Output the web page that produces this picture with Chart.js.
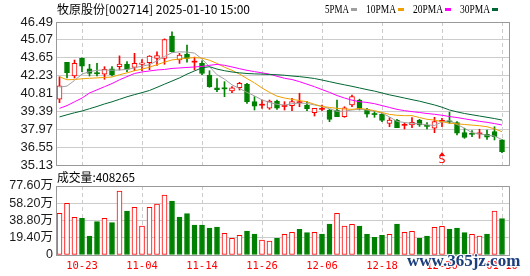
<!DOCTYPE html>
<html lang="zh">
<head>
<meta charset="utf-8">
<title>牧原股份 002714 日K线</title>
<script src="https://cdn.jsdelivr.net/npm/chart.js@4.4.1/dist/chart.umd.min.js"></script>
<style>
  html, body { margin: 0; padding: 0; background: #fff; }
  #wrap { position: relative; width: 530px; height: 276px; overflow: hidden; }
  #wrap canvas { position: absolute; left: 0; }
  #priceCanvas { top: 0; }
  #volCanvas { top: 170px; }
</style>
</head>
<body>
<div id="wrap">
  <canvas id="priceCanvas" width="530" height="185"></canvas>
  <canvas id="volCanvas" width="530" height="106"></canvas>
</div>
<script>
"use strict";

/* ****************************************************************************
    DATA
**************************************************************************** */
const stockTitle = "牧原股份[002714] 2025-01-10 15:00";
const volumeTitle = "成交量";
const lastVolume = 408265;

const dates = [
  "10-18", "10-21", "10-22", "10-23", "10-24", "10-25", "10-28", "10-29", "10-30", "10-31",
  "11-01", "11-04", "11-05", "11-06", "11-07", "11-08", "11-11", "11-12", "11-13", "11-14",
  "11-15", "11-18", "11-19", "11-20", "11-21", "11-22", "11-25", "11-26", "11-27", "11-28",
  "11-29", "12-02", "12-03", "12-04", "12-05", "12-06", "12-09", "12-10", "12-11", "12-12",
  "12-13", "12-16", "12-17", "12-18", "12-19", "12-20", "12-23", "12-24", "12-25", "12-26",
  "12-27", "12-30", "12-31", "01-02", "01-03", "01-06", "01-07", "01-08", "01-09", "01-10"
];

const openPrices = [
  40.35, 43.29, 42.20, 43.61, 42.76, 42.46, 42.34, 42.76, 42.94, 43.15,
  42.89, 43.13, 43.26, 43.60, 43.60, 45.38, 43.47, 43.95, 43.30, 43.20,
  42.28, 41.27, 41.22, 41.01, 41.27, 41.54, 40.16, 39.88, 39.65, 40.20,
  39.78, 39.84, 40.08, 39.90, 39.29, 39.55, 39.50, 39.50, 38.97, 39.90,
  40.29, 39.55, 39.20, 39.16, 38.44, 38.70, 38.28, 38.31, 38.70, 38.25,
  38.05, 38.60, 38.60, 38.49, 37.70, 37.62, 37.60, 37.57, 37.78, 37.12
];
const highPrices = [
  42.14, 43.29, 43.47, 43.65, 43.13, 43.21, 42.94, 42.94, 43.80, 43.34,
  44.00, 43.50, 43.82, 44.13, 45.15, 45.70, 44.00, 44.66, 43.70, 43.40,
  42.62, 42.00, 41.75, 41.35, 41.70, 41.62, 40.56, 40.29, 40.29, 40.29,
  40.16, 40.43, 40.83, 40.16, 39.63, 39.90, 39.55, 40.29, 39.76, 40.69,
  40.36, 39.63, 39.40, 39.24, 38.89, 38.76, 38.49, 38.89, 38.76, 38.49,
  38.92, 38.84, 39.32, 38.57, 38.05, 37.86, 37.97, 37.91, 38.17, 37.15
];
const lowPrices = [
  40.08, 42.04, 42.04, 42.54, 42.20, 42.20, 41.94, 42.20, 42.68, 42.54,
  42.62, 42.62, 42.70, 43.05, 43.13, 44.10, 43.20, 43.30, 42.68, 42.30,
  41.30, 40.95, 40.56, 40.87, 41.09, 40.03, 39.50, 39.63, 39.55, 39.55,
  39.50, 39.44, 39.76, 39.44, 39.02, 39.45, 38.57, 38.97, 38.92, 39.76,
  39.50, 38.92, 38.92, 38.57, 38.17, 38.09, 37.99, 38.09, 38.20, 38.00,
  37.70, 38.17, 38.44, 37.51, 37.25, 37.38, 37.25, 37.17, 37.12, 36.11
];
const closePrices = [
  41.41, 42.46, 43.21, 42.99, 42.41, 42.38, 42.73, 42.28, 43.15, 42.73,
  43.21, 43.24, 43.79, 43.82, 45.10, 44.13, 43.87, 43.60, 43.36, 42.40,
  41.35, 41.12, 41.18, 41.27, 41.62, 40.16, 39.80, 39.90, 40.21, 39.65,
  39.82, 40.16, 40.11, 39.60, 39.63, 39.60, 38.76, 38.97, 39.68, 40.56,
  39.63, 39.16, 39.14, 38.68, 38.70, 38.09, 38.32, 38.52, 38.31, 38.20,
  38.57, 38.65, 38.55, 37.65, 37.33, 37.57, 37.67, 37.35, 37.38, 36.19
];
// volume, in 万
const volumes = [
  46.9, 58.2, 42.4, 41.3, 21.4, 37.5, 41.3, 36.4, 72.0, 49.5,
  53.6, 32.6, 53.6, 57.4, 67.5, 60.7, 42.7, 46.5, 33.7, 33.7,
  30.4, 31.5, 24.4, 18.8, 22.2, 27.0, 23.6, 16.9, 15.7, 18.8,
  23.3, 25.5, 28.9, 25.1, 25.5, 23.6, 34.9, 46.9, 32.6, 34.5,
  32.6, 23.3, 19.9, 22.2, 23.3, 34.9, 25.5, 26.6, 18.8, 21.4,
  31.1, 32.3, 29.2, 30.4, 25.1, 23.3, 21.4, 23.6, 49.5, 40.83
];

const ma5 = [
  41.32, 41.40, 41.85, 42.35, 42.55, 42.65, 42.68, 42.66, 42.68, 42.72,
  42.85, 42.98, 43.10, 43.40, 43.75, 44.05, 44.12, 44.10, 44.02, 43.55,
  42.94, 42.30, 41.95, 41.50, 41.20, 40.90, 40.62, 40.30, 40.10, 39.95,
  39.90, 40.00, 40.05, 40.02, 39.90, 39.78, 39.60, 39.40, 39.40, 39.50,
  39.55, 39.50, 39.40, 39.25, 38.95, 38.60, 38.50, 38.45, 38.40, 38.32,
  38.27, 38.55, 38.65, 38.35, 38.05, 37.70, 37.60, 37.50, 37.43, 37.15
];
const ma10 = [
  42.14, 41.90, 41.92, 41.98, 42.02, 42.05, 42.08, 42.12, 42.30, 42.45,
  42.62, 42.75, 42.90, 43.10, 43.30, 43.48, 43.55, 43.62, 43.66, 43.62,
  43.45, 43.20, 42.90, 42.65, 42.35, 42.00, 41.65, 41.25, 40.90, 40.60,
  40.45, 40.35, 40.25, 40.15, 39.95, 39.78, 39.70, 39.63, 39.58, 39.55,
  39.62, 39.55, 39.45, 39.30, 39.15, 39.08, 39.05, 39.05, 38.90, 38.76,
  38.70, 38.57, 38.45, 38.40, 38.35, 38.30, 38.25, 38.17, 38.00, 37.78
];
const ma20 = [
  39.63, 39.85, 40.15, 40.45, 40.85, 41.10, 41.35, 41.60, 41.90, 42.15,
  42.40, 42.52, 42.60, 42.68, 42.72, 42.80, 42.84, 42.88, 42.92, 42.96,
  43.05, 43.12, 43.05, 42.92, 42.78, 42.65, 42.55, 42.45, 42.35, 42.18,
  42.02, 41.92, 41.75, 41.55, 41.35, 41.12, 40.90, 40.65, 40.45, 40.28,
  40.16, 40.10, 40.00, 39.85, 39.70, 39.55, 39.45, 39.37, 39.30, 39.22,
  39.16, 39.08, 38.98, 38.90, 38.80, 38.70, 38.60, 38.52, 38.42, 38.31
];
const ma30 = [
  38.95, 39.12, 39.28, 39.42, 39.60, 39.78, 39.98, 40.15, 40.35, 40.55,
  40.72, 40.88, 41.05, 41.30, 41.55, 41.80, 42.05, 42.35, 42.60, 42.85,
  42.94, 42.75, 42.62, 42.52, 42.45, 42.40, 42.37, 42.35, 42.32, 42.30,
  42.26, 42.20, 42.15, 42.08, 42.00, 41.88, 41.75, 41.62, 41.50, 41.38,
  41.25, 41.12, 41.00, 40.85, 40.70, 40.58, 40.45, 40.32, 40.20, 40.05,
  39.90, 39.72, 39.50, 39.35, 39.22, 39.12, 39.02, 38.92, 38.82, 38.70
];
const maNames = ["5PMA", "10PMA", "20PMA", "30PMA"];

const priceTicks = [35.13, 36.55, 37.97, 39.39, 40.81, 42.23, 43.65, 45.07, 46.49];
const volumeTicks = [0, 19.40, 38.80, 58.20, 77.60];
const dateTicks = ["10-23", "11-04", "11-14", "11-26", "12-06", "12-18", "12-30", "01-10"];
const signalDate = "12-30";
const signalText = "S";
const watermarkText = "www.365jz.com";

/* ****************************************************************************
    STYLE
**************************************************************************** */
var UP_COLOR = "#ff0000";
var DOWN_COLOR = "#008000";
var MA_COLORS = ["#a0a0a0", "#f0a000", "#ff00ff", "#006633"];
var FRAME_COLOR = "#999999";
var GRID_COLOR = "#cccccc";
var AXIS_WIDTH = 56; // room for the y labels
var X_MIN = -0.4667; // keeps the candles on the same pixels as the picture
var X_MAX = 59.933;

/* ****************************************************************************
    HELPERS
**************************************************************************** */
function isUp(i) {
  return closePrices[i] >= openPrices[i];
}

function isDoji(i) {
  return Math.abs(closePrices[i] - openPrices[i]) < 0.08;
}

// volume colour follows close against the previous close
function volumeUp(i) {
  return i === 0 || closePrices[i] >= closePrices[i - 1];
}

function lineDataset(values, color, order) {
  return {
    type: "line",
    data: values.map(function (v, i) { return { x: i, y: v }; }),
    borderColor: color,
    borderWidth: 1,
    pointRadius: 0,
    tension: 0,
    order: order
  };
}

function makeXScale(showLabels) {
  return {
    type: "linear",
    min: X_MIN,
    max: X_MAX,
    offset: false,
    afterBuildTicks: function (axis) {
      axis.ticks = dateTicks.map(function (d) { return { value: dates.indexOf(d) }; });
    },
    afterFit: function (axis) { axis.height = showLabels ? 21 : 0; },
    grid: { color: GRID_COLOR, lineWidth: 1, drawTicks: false, offset: false },
    border: { display: false, dash: [4, 3] },
    ticks: {
      display: showLabels,
      autoSkip: false,
      maxRotation: 0,
      padding: 5,
      color: UP_COLOR,
      font: { family: "'DejaVu Sans Mono'", size: 10.5 },
      callback: function (value) { return dates[value]; }
    }
  };
}

function makeYScale(tickValues, fontSize, formatter) {
  return {
    min: tickValues[0],
    max: tickValues[tickValues.length - 1],
    afterBuildTicks: function (axis) {
      axis.ticks = tickValues.map(function (v) { return { value: v }; });
    },
    afterFit: function (axis) { axis.width = AXIS_WIDTH; },
    grid: { color: GRID_COLOR, lineWidth: 1, drawTicks: false },
    border: { display: false },
    ticks: {
      autoSkip: false,
      padding: 3,
      color: "#1a1a1a",
      font: { family: "'Liberation Sans', 'Noto Sans CJK SC'", size: fontSize },
      callback: formatter
    }
  };
}

/* ****************************************************************************
    PLUGINS
**************************************************************************** */
var framePlugin = {
  id: "frame",
  afterDraw: function (chart) {
    var a = chart.chartArea;
    var ctx = chart.ctx;
    ctx.save();
    ctx.strokeStyle = FRAME_COLOR;
    ctx.lineWidth = 1;
    ctx.strokeRect(a.left + 0.5, a.top + 0.5, a.right - a.left, a.bottom - a.top);
    ctx.restore();
  }
};

var titlePlugin = {
  id: "titleLegend",
  afterDraw: function (chart) {
    var ctx = chart.ctx;
    ctx.save();
    ctx.textBaseline = "middle";
    ctx.fillStyle = "#000";
    ctx.font = "12px 'Noto Sans CJK SC'";
    ctx.fillText(stockTitle, 57, 9, 196);
    // legend: name then a small colour swatch
    ctx.font = "13px 'Liberation Serif'";
    var x = 325;
    for (var i = 0; i < maNames.length; i++) {
      var w = maNames[i].length * 6;
      ctx.fillStyle = "#000";
      ctx.fillText(maNames[i], x, 9.5, w);
      ctx.fillStyle = MA_COLORS[i];
      ctx.fillRect(x + w + 2, 8, 6, 3);
      x += w + 17;
    }
    ctx.restore();
  }
};

var signalPlugin = {
  id: "signal",
  afterDatasetsDraw: function (chart) {
    var ctx = chart.ctx;
    var x = chart.scales.x.getPixelForValue(dates.indexOf(signalDate));
    var b = chart.chartArea.bottom;
    ctx.save();
    ctx.fillStyle = UP_COLOR;
    ctx.beginPath();
    ctx.moveTo(x, b - 13);
    ctx.lineTo(x + 3, b - 9);
    ctx.lineTo(x - 3, b - 9);
    ctx.closePath();
    ctx.fill();
    ctx.font = "11px 'DejaVu Sans'";
    ctx.textAlign = "center";
    ctx.textBaseline = "bottom";
    ctx.fillText(signalText, x, b + 1);
    ctx.restore();
  }
};

var volumePlugin = {
  id: "volumeText",
  afterDraw: function (chart) {
    var ctx = chart.ctx;
    ctx.save();
    ctx.textBaseline = "middle";
    ctx.fillStyle = "#000";
    ctx.font = "12px 'Noto Sans CJK SC'";
    ctx.fillText(volumeTitle + ":" + lastVolume, 57, chart.chartArea.top - 9, 78);
    // site watermark at the bottom right
    ctx.font = "bold 17px 'Liberation Serif'";
    ctx.strokeStyle = "#ffffff";
    ctx.lineWidth = 2;
    ctx.strokeText(watermarkText, 407, 92, 116);
    ctx.fillStyle = "#1c3f7c";
    ctx.fillText(watermarkText, 407, 92, 116);
    ctx.restore();
  }
};

/* ****************************************************************************
    CHARTS
**************************************************************************** */
function renderPriceChart() {
  var wicks = {
    type: "bar",
    data: dates.map(function (d, i) { return { x: i, y: [lowPrices[i], highPrices[i]] }; }),
    backgroundColor: dates.map(function (d, i) { return isUp(i) ? UP_COLOR : DOWN_COLOR; }),
    borderWidth: 0,
    barThickness: 1,
    grouped: false,
    order: 3
  };
  var bodies = {
    type: "bar",
    data: dates.map(function (d, i) { return { x: i, y: [openPrices[i], closePrices[i]] }; }),
    backgroundColor: dates.map(function (d, i) {
      if (isDoji(i)) return isUp(i) ? UP_COLOR : DOWN_COLOR;
      return isUp(i) ? "#ffffff" : DOWN_COLOR;
    }),
    borderColor: dates.map(function (d, i) { return isUp(i) ? UP_COLOR : DOWN_COLOR; }),
    borderWidth: dates.map(function (d, i) { return isDoji(i) ? 0 : 1; }),
    borderSkipped: false,
    minBarLength: 1,
    barThickness: 5,
    grouped: false,
    order: 2
  };
  var datasets = [wicks, bodies,
    lineDataset(ma30, MA_COLORS[3], 1),
    lineDataset(ma20, MA_COLORS[2], 1),
    lineDataset(ma10, MA_COLORS[1], 1),
    lineDataset(ma5, MA_COLORS[0], 1)];

  return new Chart(document.getElementById("priceCanvas"), {
    type: "bar",
    data: { datasets: datasets },
    options: {
      responsive: false,
      animation: false,
      devicePixelRatio: 1,
      layout: { padding: { left: 0, right: 21, top: 22, bottom: 20 } },
      plugins: { legend: { display: false }, tooltip: { enabled: false } },
      scales: {
        x: makeXScale(false),
        y: makeYScale(priceTicks, 13, function (v) { return v.toFixed(2); })
      }
    },
    plugins: [framePlugin, titlePlugin, signalPlugin]
  });
}

function renderVolumeChart() {
  var bars = {
    type: "bar",
    data: volumes.map(function (v, i) { return { x: i, y: v }; }),
    backgroundColor: volumes.map(function (v, i) { return volumeUp(i) ? "#ffffff" : DOWN_COLOR; }),
    borderColor: volumes.map(function (v, i) { return volumeUp(i) ? UP_COLOR : DOWN_COLOR; }),
    borderWidth: 1,
    borderSkipped: false,
    barThickness: 5,
    grouped: false
  };

  return new Chart(document.getElementById("volCanvas"), {
    type: "bar",
    data: { datasets: [bars] },
    options: {
      responsive: false,
      animation: false,
      devicePixelRatio: 1,
      layout: { padding: { left: 0, right: 21, top: 16, bottom: 0 } },
      plugins: { legend: { display: false }, tooltip: { enabled: false } },
      scales: {
        x: makeXScale(true),
        y: makeYScale(volumeTicks, 12.5, function (v) {
          return v === 0 ? "0" : v.toFixed(2) + "万";
        })
      }
    },
    plugins: [framePlugin, volumePlugin]
  });
}

renderPriceChart();
renderVolumeChart();
</script>
</body>
</html>
